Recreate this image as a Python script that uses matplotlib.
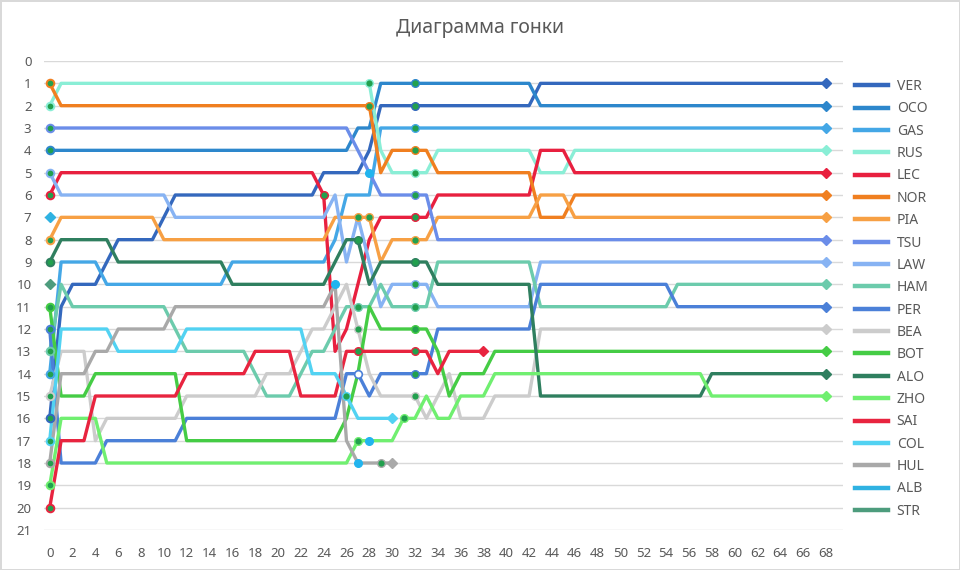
import matplotlib
matplotlib.use("Agg")
import matplotlib.pyplot as plt
from matplotlib.lines import Line2D

# ---------------- data ----------------
drivers = ["VER", "OCO", "GAS", "RUS", "LEC", "NOR", "PIA", "TSU", "LAW", "HAM",
           "PER", "BEA", "BOT", "ALO", "ZHO", "SAI", "COL", "HUL", "ALB", "STR"]

colors = {
    "VER": "#3468bd", "OCO": "#2d87cc", "GAS": "#44a7e6", "RUS": "#8aeed6",
    "LEC": "#e8203f", "NOR": "#f07f20", "PIA": "#f7a044", "TSU": "#6b8de9",
    "LAW": "#87b3f3", "HAM": "#6ccbac", "PER": "#4b80d8", "BEA": "#cccccc",
    "BOT": "#45cc45", "ALO": "#2f7f5f", "ZHO": "#70ef70", "SAI": "#e8243f",
    "COL": "#52d2f2", "HUL": "#a9a9a9", "ALB": "#2fb2e2", "STR": "#4d9c7d",
}

# position per lap (lap 0 = grid)
VER = [16, 11, 10, 10, 10, 9, 8, 8, 8, 8,
       7, 6, 6, 6, 6, 6, 6, 6, 6, 6,
       6, 6, 6, 6, 5, 5, 5, 5, 4, 2,
       2, 2, 2, 2, 2, 2, 2, 2, 2, 2,
       2, 2, 2, 1, 1, 1, 1, 1, 1, 1,
       1, 1, 1, 1, 1, 1, 1, 1, 1, 1,
       1, 1, 1, 1, 1, 1, 1, 1, 1]
OCO = [4, 4, 4, 4, 4, 4, 4, 4, 4, 4,
       4, 4, 4, 4, 4, 4, 4, 4, 4, 4,
       4, 4, 4, 4, 4, 4, 4, 3, 3, 1,
       1, 1, 1, 1, 1, 1, 1, 1, 1, 1,
       1, 1, 1, 2, 2, 2, 2, 2, 2, 2,
       2, 2, 2, 2, 2, 2, 2, 2, 2, 2,
       2, 2, 2, 2, 2, 2, 2, 2, 2]
GAS = [14, 9, 9, 9, 9, 10, 10, 10, 10, 10,
       10, 10, 10, 10, 10, 10, 9, 9, 9, 9,
       9, 9, 9, 9, 9, 8, 6, 6, 6, 3,
       3, 3, 3, 3, 3, 3, 3, 3, 3, 3,
       3, 3, 3, 3, 3, 3, 3, 3, 3, 3,
       3, 3, 3, 3, 3, 3, 3, 3, 3, 3,
       3, 3, 3, 3, 3, 3, 3, 3, 3]
RUS = [2, 1, 1, 1, 1, 1, 1, 1, 1, 1,
       1, 1, 1, 1, 1, 1, 1, 1, 1, 1,
       1, 1, 1, 1, 1, 1, 1, 1, 1, 4,
       5, 5, 5, 5, 4, 4, 4, 4, 4, 4,
       4, 4, 4, 5, 5, 5, 4, 4, 4, 4,
       4, 4, 4, 4, 4, 4, 4, 4, 4, 4,
       4, 4, 4, 4, 4, 4, 4, 4, 4]
LEC = [6, 5, 5, 5, 5, 5, 5, 5, 5, 5,
       5, 5, 5, 5, 5, 5, 5, 5, 5, 5,
       5, 5, 5, 5, 6, 13, 12, 10, 8, 7,
       7, 7, 7, 7, 6, 6, 6, 6, 6, 6,
       6, 6, 6, 4, 4, 4, 5, 5, 5, 5,
       5, 5, 5, 5, 5, 5, 5, 5, 5, 5,
       5, 5, 5, 5, 5, 5, 5, 5, 5]
NOR = [1, 2, 2, 2, 2, 2, 2, 2, 2, 2,
       2, 2, 2, 2, 2, 2, 2, 2, 2, 2,
       2, 2, 2, 2, 2, 2, 2, 2, 2, 5,
       4, 4, 4, 4, 5, 5, 5, 5, 5, 5,
       5, 5, 5, 7, 7, 7, 6, 6, 6, 6,
       6, 6, 6, 6, 6, 6, 6, 6, 6, 6,
       6, 6, 6, 6, 6, 6, 6, 6, 6]
PIA = [8, 7, 7, 7, 7, 7, 7, 7, 7, 7,
       8, 8, 8, 8, 8, 8, 8, 8, 8, 8,
       8, 8, 8, 8, 8, 7, 7, 7, 7, 9,
       8, 8, 8, 8, 7, 7, 7, 7, 7, 7,
       7, 7, 7, 6, 6, 6, 7, 7, 7, 7,
       7, 7, 7, 7, 7, 7, 7, 7, 7, 7,
       7, 7, 7, 7, 7, 7, 7, 7, 7]
TSU = [3, 3, 3, 3, 3, 3, 3, 3, 3, 3,
       3, 3, 3, 3, 3, 3, 3, 3, 3, 3,
       3, 3, 3, 3, 3, 3, 3, 4, 5, 6,
       6, 6, 6, 6, 8, 8, 8, 8, 8, 8,
       8, 8, 8, 8, 8, 8, 8, 8, 8, 8,
       8, 8, 8, 8, 8, 8, 8, 8, 8, 8,
       8, 8, 8, 8, 8, 8, 8, 8, 8]
LAW = [5, 6, 6, 6, 6, 6, 6, 6, 6, 6,
       6, 7, 7, 7, 7, 7, 7, 7, 7, 7,
       7, 7, 7, 7, 7, 6, 9, 7, 9, 11,
       10, 10, 10, 10, 11, 11, 11, 11, 11, 11,
       11, 11, 11, 9, 9, 9, 9, 9, 9, 9,
       9, 9, 9, 9, 9, 9, 9, 9, 9, 9,
       9, 9, 9, 9, 9, 9, 9, 9, 9]
HAM = [13, 10, 11, 11, 11, 11, 11, 11, 11, 11,
       11, 12, 13, 13, 13, 13, 13, 13, 14, 15,
       15, 15, 14, 13, 13, 12, 11, 11, 11, 10,
       11, 11, 11, 11, 9, 9, 9, 9, 9, 9,
       9, 9, 9, 11, 11, 11, 11, 11, 11, 11,
       11, 11, 11, 11, 11, 10, 10, 10, 10, 10,
       10, 10, 10, 10, 10, 10, 10, 10, 10]
PER = [12, 18, 18, 18, 18, 17, 17, 17, 17, 17,
       17, 17, 16, 16, 16, 16, 16, 16, 16, 16,
       16, 16, 16, 16, 16, 16, 14, 14, 15, 14,
       14, 14, 14, 14, 12, 12, 12, 12, 12, 12,
       12, 12, 12, 10, 10, 10, 10, 10, 10, 10,
       10, 10, 10, 10, 10, 11, 11, 11, 11, 11,
       11, 11, 11, 11, 11, 11, 11, 11, 11]
BEA = [15, 13, 13, 13, 17, 16, 16, 16, 16, 16,
       16, 16, 15, 15, 15, 15, 15, 15, 15, 14,
       14, 14, 13, 12, 12, 11, 10, 12, 14, 15,
       15, 15, 15, 16, 15, 14, 16, 16, 16, 15,
       15, 15, 15, 12, 12, 12, 12, 12, 12, 12,
       12, 12, 12, 12, 12, 12, 12, 12, 12, 12,
       12, 12, 12, 12, 12, 12, 12, 12, 12]
BOT = [11, 15, 15, 15, 14, 14, 14, 14, 14, 14,
       14, 14, 17, 17, 17, 17, 17, 17, 17, 17,
       17, 17, 17, 17, 17, 17, 16, 14, 11, 12,
       12, 12, 12, 12, 13, 15, 14, 14, 14, 13,
       13, 13, 13, 13, 13, 13, 13, 13, 13, 13,
       13, 13, 13, 13, 13, 13, 13, 13, 13, 13,
       13, 13, 13, 13, 13, 13, 13, 13, 13]
ALO = [9, 8, 8, 8, 8, 8, 9, 9, 9, 9,
       9, 9, 9, 9, 9, 9, 10, 10, 10, 10,
       10, 10, 10, 10, 10, 9, 8, 8, 10, 9,
       9, 9, 9, 9, 10, 10, 10, 10, 10, 10,
       10, 10, 10, 15, 15, 15, 15, 15, 15, 15,
       15, 15, 15, 15, 15, 15, 15, 15, 14, 14,
       14, 14, 14, 14, 14, 14, 14, 14, 14]
ZHO = [19, 16, 16, 16, 16, 18, 18, 18, 18, 18,
       18, 18, 18, 18, 18, 18, 18, 18, 18, 18,
       18, 18, 18, 18, 18, 18, 18, 17, 17, 17,
       17, 16, 16, 15, 16, 16, 15, 15, 15, 14,
       14, 14, 14, 14, 14, 14, 14, 14, 14, 14,
       14, 14, 14, 14, 14, 14, 14, 14, 15, 15,
       15, 15, 15, 15, 15, 15, 15, 15, 15]
SAI = [20, 17, 17, 17, 15, 15, 15, 15, 15, 15,
       15, 15, 14, 14, 14, 14, 14, 14, 13, 13,
       13, 13, 15, 15, 15, 15, 13, 13, 13, 13,
       13, 13, 13, 13, 14, 13, 13, 13, 13]
COL = [17, 12, 12, 12, 12, 12, 13, 13, 13, 13,
       13, 13, 12, 12, 12, 12, 12, 12, 12, 12,
       12, 12, 12, 14, 14, 14, 15, 16, 16, 16,
       16]
HUL = [18, 14, 14, 14, 13, 13, 12, 12, 12, 12,
       12, 11, 11, 11, 11, 11, 11, 11, 11, 11,
       11, 11, 11, 11, 11, 10, 17, 18, 18, 18,
       18]
ALB = [7]
STR = [10]

positions = {"VER": VER, "OCO": OCO, "GAS": GAS, "RUS": RUS, "LEC": LEC,
             "NOR": NOR, "PIA": PIA, "TSU": TSU, "LAW": LAW, "HAM": HAM,
             "PER": PER, "BEA": BEA, "BOT": BOT, "ALO": ALO, "ZHO": ZHO,
             "SAI": SAI, "COL": COL, "HUL": HUL, "ALB": ALB, "STR": STR}

# laps with a (green) pit-stop marker
pit_laps = {
    "VER": [32], "OCO": [32], "GAS": [32], "RUS": [28, 32], "LEC": [24, 32],
    "NOR": [28, 32], "PIA": [27, 28, 32], "TSU": [32], "LAW": [32],
    "HAM": [27, 32], "PER": [32], "BEA": [27, 32], "BOT": [32],
    "ALO": [27, 32], "ZHO": [27, 31], "SAI": [27, 32], "COL": [26],
    "HUL": [29],
}
# laps with a light-blue event marker
event_laps = {"HUL": [25, 27], "TSU": [28], "ZHO": [28]}
# laps with a hollow marker
hollow_laps = {"PER": [27]}

title = "Диаграмма гонки"
x_ticks = list(range(0, 69, 2))
y_ticks = list(range(0, 22))

# ---------------- drawing ----------------
plt.rcParams["font.family"] = ["Noto Sans", "DejaVu Sans"]
TXT = "#595959"
PIT_GREEN = "#22a04e"
EVENT_BLUE = "#22b4ee"
MS = 5.5

fig = plt.figure(figsize=(9.6, 5.7), dpi=100)
fig.patch.set_facecolor("white")
ax = fig.add_axes([44 / 960, 40 / 570, 799 / 960, 469 / 570])

handles = []
for d in drivers:
    pos = positions[d]
    laps = list(range(len(pos)))
    c = colors[d]
    ax.plot(laps, pos, color=c, lw=2.4, solid_joinstyle="round",
            solid_capstyle="butt", zorder=2)
    handles.append(Line2D([0], [0], color=c, lw=3.2))
    if len(pos) > 1:
        ax.plot(laps[0], pos[0], marker="o", ms=MS, mfc=PIT_GREEN, mec=c,
                mew=1.4, zorder=4)
    ax.plot(laps[-1], pos[-1], marker="D", ms=5, mfc=c, mec=c, zorder=4)
    for lp in pit_laps.get(d, []):
        ax.plot(lp, pos[lp], marker="o", ms=MS, mfc=PIT_GREEN, mec=c,
                mew=1.0, zorder=4)
    for lp in event_laps.get(d, []):
        ax.plot(lp, pos[lp], marker="o", ms=MS, mfc=EVENT_BLUE, mec=EVENT_BLUE,
                zorder=4)
    for lp in hollow_laps.get(d, []):
        ax.plot(lp, pos[lp], marker="o", ms=MS, mfc="white", mec=c,
                mew=1.2, zorder=4)

ax.set_xlim(-0.5, 69.5)
ax.set_ylim(21, 0)
ax.set_xticks(x_ticks)
ax.set_yticks(y_ticks)
ax.yaxis.grid(True, color="#d9d9d9", lw=1)
ax.set_axisbelow(True)
for s in ax.spines.values():
    s.set_visible(False)
ax.tick_params(axis="both", length=0, labelsize=9.5, colors=TXT)
ax.tick_params(axis="y", pad=9)
ax.tick_params(axis="x", pad=12)

fig.text(0.5, 1 - 28 / 570, title, ha="center", va="center",
         fontsize=14, color=TXT)

leg = fig.legend(handles, drivers, loc="upper left",
                 bbox_to_anchor=(855 / 960, 1 - 79 / 570),
                 frameon=False, fontsize=10, handlelength=2.4,
                 handletextpad=0.6, labelspacing=0.53, borderpad=0,
                 borderaxespad=0)
for t in leg.get_texts():
    t.set_color(TXT)

fig.patch.set_edgecolor("#d9d9d9")
fig.patch.set_linewidth(1)

fig.savefig("out.png", dpi=100, facecolor=fig.get_facecolor(),
            edgecolor=fig.get_edgecolor())
